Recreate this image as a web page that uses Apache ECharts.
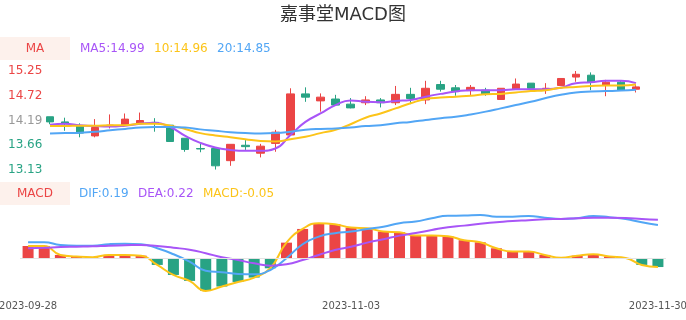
<!DOCTYPE html>
<html>
<head>
<meta charset="utf-8">
<script src="https://cdn.jsdelivr.net/npm/echarts@6/dist/echarts.min.js"></script>
<style>html,body{margin:0;padding:0;background:#fff;}#c{width:686px;height:320px;}</style>
</head>
<body>
<div id="c"></div>
<script>
var dates = ['2023-09-28','2023-10-09','2023-10-10','2023-10-11','2023-10-12','2023-10-13','2023-10-16','2023-10-17','2023-10-18','2023-10-19','2023-10-20','2023-10-23','2023-10-24','2023-10-25','2023-10-26','2023-10-27','2023-10-30','2023-10-31','2023-11-01','2023-11-02','2023-11-03','2023-11-06','2023-11-07','2023-11-08','2023-11-09','2023-11-10','2023-11-13','2023-11-14','2023-11-15','2023-11-16','2023-11-17','2023-11-20','2023-11-21','2023-11-22','2023-11-23','2023-11-24','2023-11-27','2023-11-28','2023-11-29','2023-11-30'];
// [open, close, low, high]
var candles = [
[14.27,14.16,14.11,14.27],[14.16,14.12,13.97,14.25],[14.08,13.92,13.83,14.13],[13.86,14.04,13.83,14.22],
[14.07,14.09,14.02,14.32],[14.09,14.22,14.07,14.34],[14.13,14.19,14.11,14.36],[14.15,14.13,13.95,14.24],
[14.09,13.74,13.73,14.09],[13.81,13.57,13.52,13.81],[13.59,13.58,13.51,13.69],[13.59,13.22,13.14,13.59],
[13.33,13.68,13.22,13.68],[13.66,13.63,13.56,13.77],[13.49,13.64,13.40,13.69],[13.70,13.94,13.52,13.99],
[13.88,14.76,13.88,14.88],[14.76,14.69,14.59,14.90],[14.61,14.69,14.38,14.77],[14.65,14.52,14.52,14.74],
[14.54,14.46,14.45,14.67],[14.57,14.63,14.52,14.71],[14.63,14.57,14.47,14.67],[14.57,14.75,14.52,14.93],
[14.75,14.66,14.54,14.89],[14.63,14.88,14.54,15.04],[14.96,14.86,14.81,15.04],[14.89,14.81,14.72,14.95],
[14.83,14.90,14.72,14.95],[14.84,14.76,14.72,14.89],[14.64,14.88,14.64,14.88],[14.86,14.97,14.86,15.09],
[14.99,14.88,14.88,14.99],[14.87,14.88,14.76,14.99],[14.94,15.09,14.94,15.09],[15.12,15.18,15.02,15.25],
[15.16,15.01,14.84,15.22],[14.95,15.01,14.71,15.06],[15.01,14.84,14.84,15.04],[14.86,14.91,14.79,14.95]
];
var ma5 = [14.10,14.12,14.09,14.07,14.06,14.08,14.12,14.14,14.05,13.86,13.71,13.61,13.56,13.54,13.54,13.59,13.88,14.16,14.34,14.52,14.62,14.59,14.58,14.61,14.63,14.70,14.76,14.81,14.84,14.84,14.84,14.86,14.86,14.86,14.89,14.99,15.01,15.04,15.04,14.99];
var ma10 = [14.07,14.07,14.08,14.08,14.09,14.09,14.12,14.12,14.08,14.01,13.92,13.87,13.83,13.79,13.75,13.74,13.79,13.84,13.92,13.99,14.11,14.25,14.34,14.45,14.56,14.65,14.68,14.70,14.72,14.75,14.76,14.79,14.82,14.84,14.89,14.91,14.93,14.94,14.94,14.96];
var ma20 = [13.91,13.92,13.93,13.95,13.98,14.01,14.04,14.05,14.05,14.04,14.00,13.97,13.94,13.92,13.91,13.92,13.95,13.99,14.01,14.02,14.04,14.07,14.09,14.13,14.16,14.20,14.24,14.27,14.32,14.38,14.45,14.52,14.59,14.67,14.74,14.79,14.81,14.82,14.83,14.85];
var dif = [0.091,0.091,0.076,0.072,0.072,0.080,0.083,0.080,0.057,0.023,-0.019,-0.071,-0.080,-0.089,-0.091,-0.067,0.000,0.080,0.123,0.143,0.152,0.167,0.180,0.200,0.209,0.228,0.242,0.243,0.247,0.237,0.237,0.241,0.231,0.224,0.228,0.241,0.234,0.224,0.205,0.19];
var dea = [0.057,0.060,0.064,0.066,0.068,0.072,0.074,0.076,0.070,0.060,0.049,0.029,0.006,-0.010,-0.029,-0.042,-0.034,-0.010,0.019,0.047,0.066,0.089,0.108,0.129,0.144,0.161,0.177,0.186,0.197,0.205,0.213,0.217,0.222,0.224,0.228,0.231,0.231,0.230,0.224,0.22];
var macd = [0.070,0.070,0.019,0.010,0.006,0.019,0.019,0.015,-0.038,-0.095,-0.129,-0.186,-0.161,-0.135,-0.110,-0.057,0.089,0.167,0.200,0.194,0.175,0.171,0.152,0.148,0.129,0.129,0.125,0.103,0.091,0.057,0.038,0.038,0.019,0.003,0.015,0.023,0.010,0.002,-0.038,-0.05];
var priceTicks = [13.13, 15.25, 0.53];
var maLegend = ['MA5:14.99', '10:14.96', '20:14.85'];
var macdLegend = ['DIF:0.19', 'DEA:0.22', 'MACD:-0.05'];
var title = '嘉事堂MACD图';

var FONT = '"DejaVu Sans", "Noto Sans CJK SC", sans-serif';
var RED = '#eb4545', GREEN = '#28a384', PURPLE = '#a855f7', GOLD = '#fcc419', BLUE = '#52a6f5';
var midPrice = (priceTicks[0] + priceTicks[1]) / 2;

var chart = echarts.init(document.getElementById('c'), null, {renderer: 'canvas'});
function txt(x, y, s, color, align) {
  return {type: 'text', x: x, y: y, style: {text: s, fill: color, font: '12px ' + FONT, align: align || 'left', verticalAlign: 'middle'}};
}
chart.setOption({
  animation: false,
  textStyle: {fontFamily: FONT},
  title: {text: title, left: 'center', top: 6, padding: 0, textStyle: {fontSize: 18, fontWeight: 'normal', color: '#333', fontFamily: FONT}},
  graphic: [
    {type: 'rect', shape: {x: 0, y: 37, width: 70, height: 23}, style: {fill: '#fdf1ec'}},
    txt(35, 48.5, 'MA', RED, 'center'),
    txt(80, 48.5, maLegend[0], PURPLE),
    txt(154, 48.5, maLegend[1], GOLD),
    txt(217, 48.5, maLegend[2], BLUE),
    {type: 'rect', shape: {x: 0, y: 182, width: 70, height: 23}, style: {fill: '#fdf1ec'}},
    txt(35, 193.5, 'MACD', RED, 'center'),
    txt(79, 193.5, macdLegend[0], BLUE),
    txt(138, 193.5, macdLegend[1], PURPLE),
    txt(203, 193.5, macdLegend[2], GOLD)
  ],
  grid: [
    {left: 42.5, right: 42.5, top: 71, height: 99, containLabel: false, outerBoundsMode: 'none'},
    {left: 20, right: 20, top: 210, height: 86, containLabel: false, outerBoundsMode: 'none'}
  ],
  xAxis: [
    {type: 'category', gridIndex: 0, data: dates, boundaryGap: true, show: false},
    {type: 'category', gridIndex: 1, data: dates, boundaryGap: true,
     axisLine: {show: false}, axisTick: {show: false}, splitLine: {show: false},
     axisLabel: {show: true, margin: 5, fontSize: 10, color: '#555', fontFamily: FONT, hideOverlap: false,
       interval: function (i) { return i === 0 || i === 20 || i === dates.length - 1; }}}
  ],
  yAxis: [
    {type: 'value', gridIndex: 0, min: priceTicks[0], max: priceTicks[1], interval: priceTicks[2],
     axisLine: {show: false}, axisTick: {show: false}, splitLine: {show: false},
     axisLabel: {show: true, align: 'left', margin: 34.5, fontSize: 12, fontFamily: FONT,
       formatter: function (v) { return v.toFixed(2); },
       color: function (v) { v = Number(v); return v > midPrice + 0.001 ? RED : (v < midPrice - 0.001 ? GREEN : '#999'); }}},
    {type: 'value', gridIndex: 1, min: -0.215, max: 0.275, show: false, splitLine: {show: false}}
  ],
  series: [
    {type: 'candlestick', xAxisIndex: 0, yAxisIndex: 0, data: candles, barWidth: 8,
     itemStyle: {color: RED, color0: GREEN, borderColor: RED, borderColor0: GREEN, borderWidth: 1}},
    {type: 'line', xAxisIndex: 0, yAxisIndex: 0, data: ma5, smooth: true, showSymbol: false, lineStyle: {color: PURPLE, width: 2}, itemStyle: {color: PURPLE}},
    {type: 'line', xAxisIndex: 0, yAxisIndex: 0, data: ma10, smooth: true, showSymbol: false, lineStyle: {color: GOLD, width: 2}, itemStyle: {color: GOLD}},
    {type: 'line', xAxisIndex: 0, yAxisIndex: 0, data: ma20, smooth: true, showSymbol: false, lineStyle: {color: BLUE, width: 2}, itemStyle: {color: BLUE}},
    {type: 'bar', xAxisIndex: 1, yAxisIndex: 1, data: macd, barWidth: 11,
     itemStyle: {color: function (p) { return p.value >= 0 ? RED : GREEN; }},
     markLine: {silent: true, symbol: 'none', label: {show: false}, lineStyle: {color: '#e3e3e3', type: 'solid', width: 1}, data: [{yAxis: 0}]}},
    {type: 'line', xAxisIndex: 1, yAxisIndex: 1, data: macd, smooth: true, showSymbol: false, lineStyle: {color: GOLD, width: 2}, itemStyle: {color: GOLD}},
    {type: 'line', xAxisIndex: 1, yAxisIndex: 1, data: dif, smooth: true, showSymbol: false, lineStyle: {color: BLUE, width: 2}, itemStyle: {color: BLUE}},
    {type: 'line', xAxisIndex: 1, yAxisIndex: 1, data: dea, smooth: true, showSymbol: false, lineStyle: {color: PURPLE, width: 2}, itemStyle: {color: PURPLE}}
  ]
});
</script>
</body>
</html>
